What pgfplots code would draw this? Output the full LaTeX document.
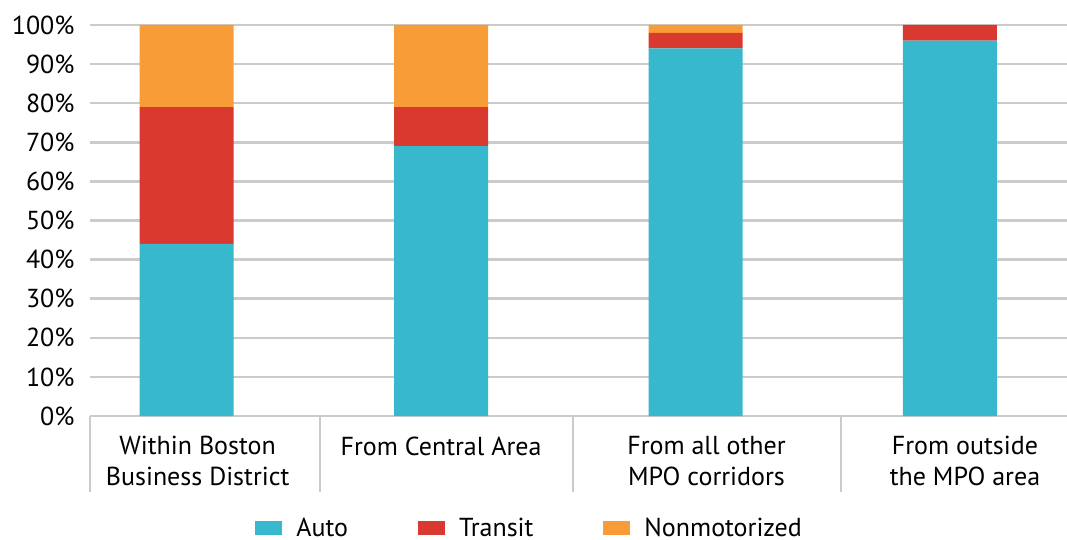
\documentclass[border=0pt]{standalone}
\usepackage{pgfplots}
\pgfplotsset{compat=1.18}
\usepackage{fontspec}
\setmainfont{PT Sans}
\definecolor{cAuto}{HTML}{37B8CC}
\definecolor{cTransit}{HTML}{DA3930}
\definecolor{cNon}{HTML}{F79C36}
\definecolor{cGrid}{HTML}{CBCBCB}
\begin{document}
\begin{tikzpicture}
\begin{axis}[
  name=ax,
  scale only axis, width=977pt, height=391pt,
  ybar stacked, bar width=94pt,
  xmin=-0.38, xmax=3.46, ymin=0, ymax=100,
  axis line style={draw=none},
  ymajorgrids, grid style={cGrid, line width=2.5pt},
  ytick={0,10,...,100},
  yticklabel={\pgfmathprintnumber{\tick}\%},
  /pgf/number format/assume math mode=true,
  major tick length=0pt,
  tick style={draw=none},
  yticklabel style={font=\fontsize{26}{30}\selectfont, xshift=-12pt},
  xtick={0.043,1,2.043,3.059},
  xticklabels={{Within Boston\\Business District},{From Central Area},{From all other\\MPO corridors},{From outside\\the MPO area}},
  xticklabel style={align=center, font=\fontsize{26}{31}\selectfont, yshift=-17pt},
  xtick pos=bottom, tick align=outside,
  extra x ticks={-0.38,0.524,1.52,2.57},
  extra x tick labels={},
  extra x tick style={major tick length=76pt, tick style={draw=cGrid, line width=2pt}, grid=none},
  legend columns=3,
  legend style={draw=none, fill=none, at={(0.45,-0.287)}, anchor=center,
    inner sep=0pt, nodes={inner ysep=0pt},
    font=\fontsize{26}{30}\selectfont,
    /tikz/every odd column/.append style={column sep=12pt},
    /tikz/every even column/.append style={column sep=68pt}},
  legend image code/.code={\fill[#1] (0pt,-7pt) rectangle (27pt,7pt);},
  clip=false,
]
\addplot[fill=cAuto, draw=none] coordinates {(0,44) (1,69) (2,94) (3,96)};
\addplot[fill=cTransit, draw=none] coordinates {(0,35) (1,10) (2,4) (3,4)};
\addplot[fill=cNon, draw=none] coordinates {(0,21) (1,21) (2,2) (3,0)};
\legend{Auto, Transit, Nonmotorized}
\end{axis}
\pgfresetboundingbox
\useasboundingbox ([xshift=-90pt,yshift=-124pt]ax.south west) rectangle ([yshift=25pt]ax.north east);
\end{tikzpicture}
\end{document}
